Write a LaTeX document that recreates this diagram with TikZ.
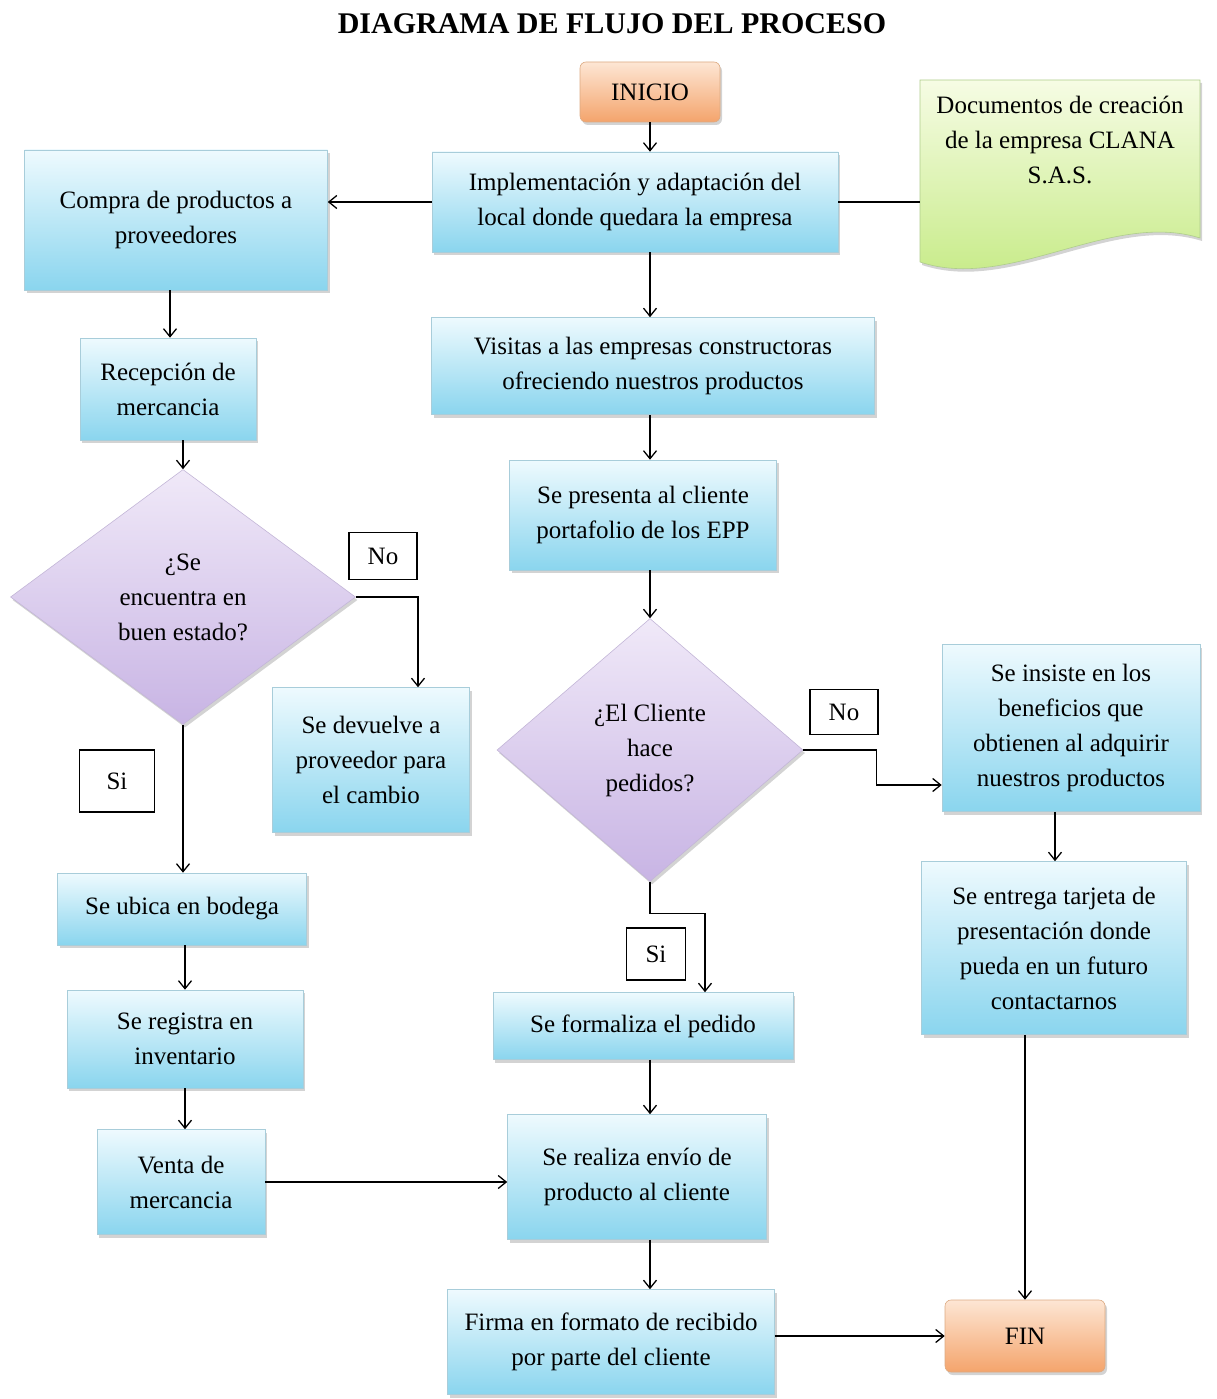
\documentclass[tikz,border=0pt]{standalone}
\usepackage{fontspec}
\setmainfont{Liberation Serif}
\usetikzlibrary{shapes.geometric,shadows,arrows.meta}
\definecolor{bluetop}{RGB}{238,250,254}
\definecolor{bluebot}{RGB}{138,213,238}
\definecolor{blueedge}{RGB}{168,205,218}
\definecolor{orangetop}{RGB}{253,230,212}
\definecolor{orangebot}{RGB}{244,164,108}
\definecolor{orangeedge}{RGB}{220,170,130}
\definecolor{purpletop}{RGB}{240,233,248}
\definecolor{purplebot}{RGB}{200,180,228}
\definecolor{purpleedge}{RGB}{195,182,215}
\definecolor{greentop}{RGB}{246,252,228}
\definecolor{greenbot}{RGB}{196,234,130}
\definecolor{greenedge}{RGB}{175,205,140}
\begin{document}
\begin{tikzpicture}[x=1pt,y=-1pt,
  txt/.style={font=\fontsize{25}{35}\selectfont, text=black, align=center},
  shad/.style={drop shadow={shadow xshift=2pt,shadow yshift=-3pt,opacity=0.35}},
  procbox/.style={txt, rectangle, top color=bluetop, bottom color=bluebot,
    draw=blueedge, line width=0.6pt, shad, inner sep=2pt},
  termbox/.style={txt, rectangle, rounded corners=6pt, top color=orangetop,
    bottom color=orangebot, draw=orangeedge, line width=0.6pt, shad, inner sep=2pt},
  decbox/.style={txt, diamond, top color=purpletop, bottom color=purplebot,
    draw=purpleedge, line width=0.6pt, shad, inner sep=0pt},
  labbox/.style={txt, rectangle, draw=black, line width=1.2pt, fill=white, inner sep=0pt},
  conn/.style={line width=1.3pt, -{Straight Barb[length=8pt,width=13pt,line width=1.3pt]}},
  plainconn/.style={line width=1.3pt}
]
\useasboundingbox (0,0) rectangle (1216,1399);

% title
\node[font=\fontsize{30}{36}\selectfont\bfseries] (title) at (612,24) {DIAGRAMA DE FLUJO DEL PROCESO};

% document shape
\path[top color=greentop, bottom color=greenbot, draw=greenedge, line width=0.6pt, shad]
  (920,80) -- (1200,80) -- (1200,238) .. controls (1110,210) and (1010,292) .. (920,262) -- cycle;
\node[txt, minimum width=280pt, inner sep=0pt] (doc) at (1060,140) {Documentos de creación\\de la empresa CLANA\\S.A.S.};

% central column
\node[termbox, minimum width=140pt, minimum height=60pt] (inicio) at (650,92) {INICIO};
\node[procbox, minimum width=406pt, minimum height=100pt] (impl) at (635,202) {Implementación y adaptación del\\local donde quedara la empresa};
\node[procbox, minimum width=443pt, minimum height=97pt] (visitas) at (653,366) {Visitas a las empresas constructoras\\ofreciendo nuestros productos};
\node[procbox, minimum width=267pt, minimum height=110pt] (presenta) at (643,515) {Se presenta al cliente\\portafolio de los EPP};
\node[decbox, minimum width=306pt, minimum height=263pt] (d2) at (650,750) {¿El Cliente\\hace\\pedidos?};
\node[labbox, minimum width=68pt, minimum height=45pt] (no2) at (844,712) {No};
\node[labbox, minimum width=59pt, minimum height=52pt] (si2) at (656,954) {Si};
\node[procbox, minimum width=300pt, minimum height=67pt] (formaliza) at (643,1026) {Se formaliza el pedido};
\node[procbox, minimum width=259pt, minimum height=125pt] (envio) at (637,1177) {Se realiza envío de\\producto al cliente};
\node[procbox, minimum width=327pt, minimum height=105pt] (firma) at (611,1342) {Firma en formato de recibido\\por parte del cliente};

% left column
\node[procbox, minimum width=303pt, minimum height=140pt] (compra) at (176,220) {Compra de productos a\\proveedores};
\node[procbox, minimum width=176pt, minimum height=102pt] (recep) at (168,389) {Recepción de\\mercancia};
\node[decbox, minimum width=345pt, minimum height=255pt] (d1) at (183,597) {¿Se\\encuentra en\\buen estado?};
\node[labbox, minimum width=68pt, minimum height=47pt] (no1) at (383,556) {No};
\node[procbox, minimum width=197pt, minimum height=145pt] (devuelve) at (371,760) {Se devuelve a\\proveedor para\\el cambio};
\node[labbox, minimum width=75pt, minimum height=62pt] (si1) at (117,781) {Si};
\node[procbox, minimum width=249pt, minimum height=72pt] (ubica) at (182,909) {Se ubica en bodega};
\node[procbox, minimum width=236pt, minimum height=98pt] (registra) at (185,1039) {Se registra en\\inventario};
\node[procbox, minimum width=168pt, minimum height=105pt] (venta) at (181,1182) {Venta de\\mercancia};

% right column
\node[procbox, minimum width=258pt, minimum height=167pt] (insiste) at (1071,728) {Se insiste en los\\beneficios que\\obtienen al adquirir\\nuestros productos};
\node[procbox, minimum width=265pt, minimum height=173pt] (entrega) at (1054,948) {Se entrega tarjeta de\\presentación donde\\pueda en un futuro\\contactarnos};
\node[termbox, minimum width=160pt, minimum height=72pt] (fin) at (1025,1336) {FIN};

% connectors
\draw[conn] (inicio.south) -- (inicio.south |- impl.north);
\draw[conn] (impl.west) -- (impl.west -| compra.east);
\draw[plainconn] (impl.east) -- (impl.east -| doc.west);
\draw[conn] ([xshift=-6pt]compra.south) -- ([xshift=-6pt]compra.south |- recep.north);
\draw[conn] (recep.south -| d1.north) -- (d1.north);
\draw[conn] (d1.east) -| ([xshift=47pt]devuelve.north);
\draw[conn] (d1.south) -- (d1.south |- ubica.north);
\draw[conn] (ubica.south -| registra.north) -- (registra.north);
\draw[conn] (registra.south) -- (registra.south |- venta.north);
\draw[conn] (venta.east) -- (venta.east -| envio.west);

\draw[conn] (impl.south -| d2.north) -- (visitas.north -| d2.north);
\draw[conn] (visitas.south -| d2.north) -- (presenta.north -| d2.north);
\draw[conn] (presenta.south -| d2.north) -- (d2.north);
\draw[conn] (d2.south) -- ++(0,32) -| ([xshift=62pt]formaliza.north);
\draw[conn] (d2.east) -- ++(73,0) |- ([yshift=-57pt]insiste.west);
\draw[conn] (formaliza.south -| d2.north) -- (envio.north -| d2.north);
\draw[conn] (envio.south -| d2.north) -- (firma.north -| d2.north);
\draw[conn] (fin.west -| firma.east) -- (fin.west);

\draw[conn] ([xshift=-16pt]insiste.south) -- ([xshift=-16pt]insiste.south |- entrega.north);
\draw[conn] (entrega.south -| fin.north) -- (fin.north);
\end{tikzpicture}
\end{document}
